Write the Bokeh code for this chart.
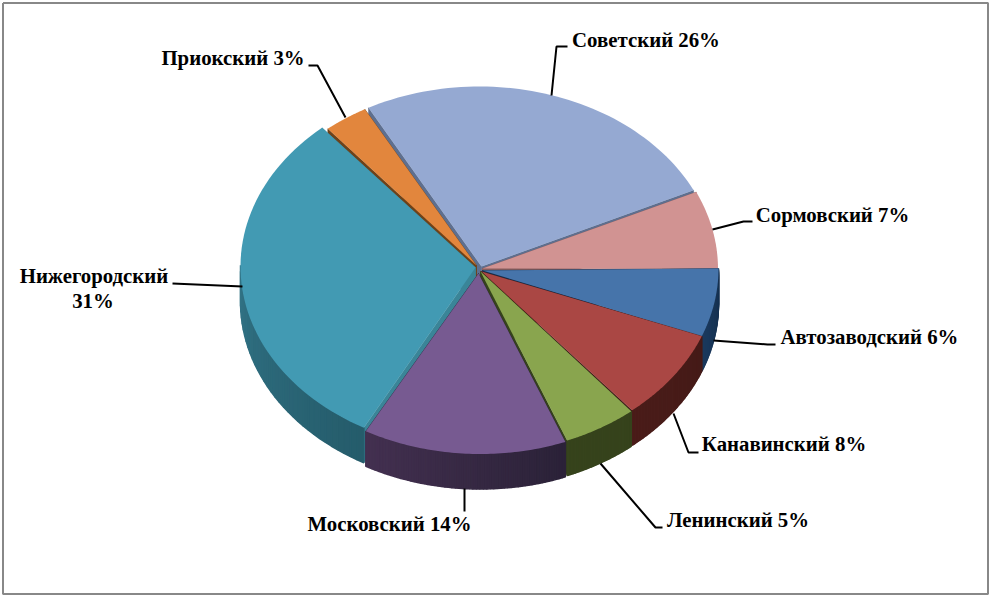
import numpy as np
from bokeh.plotting import figure
from bokeh.models import Range1d
from bokeh.core.properties import value
from bokeh.embed import file_html
from bokeh.resources import INLINE

names = ["Автозаводский", "Канавинский", "Ленинский", "Московский",
         "Нижегородский", "Приокский", "Советский", "Сормовский"]
shares = [6, 8, 5, 14, 31, 3, 26, 7]
top_colors = ["#4674aa", "#aa4744", "#89a54e", "#775a91", "#429ab3", "#e2863d", "#95a9d2", "#d19392"]
wall_left = ["#1b3a5e", "#4a1c19", "#36431c", "#433050", "#3b8499", "#7a4a1c", "#5e6f8f", "#8a5f5e"]
wall_right = ["#16304f", "#451b18", "#36431c", "#2b2238", "#255c6b", "#7a4a1c", "#5e6f8f", "#8a5f5e"]
edge_colors = ["#16304f", "#451b18", "#36431c", "#2b2238", "#3a8598", "#6e4219", "#5e6f8f", "#8a5f5e"]
rim_shift = [(0, 0), (0, 0), (-1, 1), (0, 1.5), (-2, -2), (-1, 2), (-1, 2), (-0.5, 0.5)]
apex_shift = [(2, 2), (1, 3), (0, 3), (-2, 5), (-5, -1), (-4, -3), (1, -2), (2, 0)]
trim_deg = [(0, 0), (0, 0), (0, 0), (0.7, 0), (0, 1.5), (0, 0), (1, 0.7), (0.5, 0)]
draw_order = [6, 5, 4, 7, 0, 1, 2, 3]

CX, CY, RX, RY, DEPTH = 480.0, 268.0, 238.0, 184.0, 35.0

p = figure(width=990, height=597, x_range=Range1d(0, 990), y_range=Range1d(597, 0),
           output_backend="svg", toolbar_location=None, min_border=0,
           background_fill_color="white", border_fill_color="white", outline_line_color=None)
p.axis.visible = False
p.grid.visible = False
p.styles = {"position": "absolute", "left": "0px", "top": "0px"}

p.line([2.5, 987.5, 987.5, 2.5, 2.5], [2.5, 2.5, 593.5, 593.5, 2.5], line_color="#888888", line_width=2)


def mix(a, b, f):
    ca = [int(a[i:i + 2], 16) for i in (1, 3, 5)]
    cb = [int(b[i:i + 2], 16) for i in (1, 3, 5)]
    return "#%02x%02x%02x" % tuple(int(round(x + (y - x) * f)) for x, y in zip(ca, cb))


ends = np.cumsum(shares) / sum(shares) * 2 * np.pi
starts = np.concatenate([[0], ends[:-1]])

for i in draw_order:
    t0 = starts[i] + np.radians(trim_deg[i][0])
    t1 = ends[i] - np.radians(trim_deg[i][1])
    cx, cy = CX + rim_shift[i][0], CY + rim_shift[i][1]
    ax, ay = CX + apex_shift[i][0], CY + apex_shift[i][1]
    ts = np.linspace(t0, t1, 60)
    xs = cx + RX * np.cos(ts)
    ys = cy + RY * np.sin(ts)
    # radial walls
    for t in (t0, t1):
        ex, ey = cx + RX * np.cos(t), cy + RY * np.sin(t)
        p.patch([ax, ex, ex, ax], [ay, ey, ey + DEPTH, ay + DEPTH], fill_color=edge_colors[i],
                line_color=edge_colors[i], line_width=0.5)
    # outer wall, shaded along its length
    qx, qy, qc = [], [], []
    for k in range(len(ts) - 1):
        if np.sin(ts[k]) < 0 and np.sin(ts[k + 1]) < 0:
            continue
        qx.append([xs[k], xs[k + 1], xs[k + 1], xs[k]])
        qy.append([ys[k], ys[k + 1], ys[k + 1] + DEPTH, ys[k] + DEPTH])
        qc.append(mix(wall_left[i], wall_right[i], 1 - k / (len(ts) - 2)))
    if qx:
        p.patches(qx, qy, fill_color=qc, line_color=qc, line_width=1.5)
    # top face
    p.patch(np.r_[ax, xs], np.r_[ay, ys], fill_color=top_colors[i], line_color=None)

# leader lines
leaders = [
    ([713, 767, 775], [340, 344, 344]),
    ([673, 688, 698], [413, 452, 452]),
    ([600, 655, 662], [463, 527, 527]),
    ([464, 464], [488, 511]),
    ([242, 172], [286, 283]),
    ([345, 317, 308], [117, 65, 65]),
    ([551, 556, 567], [95, 46, 46]),
    ([712, 743, 752], [229, 221, 221]),
]
for lx, ly in leaders:
    p.line(lx, ly, line_color="#000000", line_width=2)

# labels
label_at = [(869, 336), (783.5, 443), (737.5, 519), (389, 523), None, (232.5, 57), (645.5, 39), (832, 214)]
lx, ly, lt = [], [], []
for n, s, pos in zip(names, shares, label_at):
    if pos is None:
        lx += [93.5, 92.5]
        ly += [275, 300]
        lt += [n, f"{s}%"]
    else:
        lx.append(pos[0])
        ly.append(pos[1])
        lt.append(f"{n} {s}%")
p.text(lx, ly, text=lt, text_font=value("Liberation Serif"), text_font_style="bold",
       text_font_size="20.8px", text_align="center", text_baseline="middle", text_color="#000000")

open("out.html", "w").write(file_html(p, INLINE))
